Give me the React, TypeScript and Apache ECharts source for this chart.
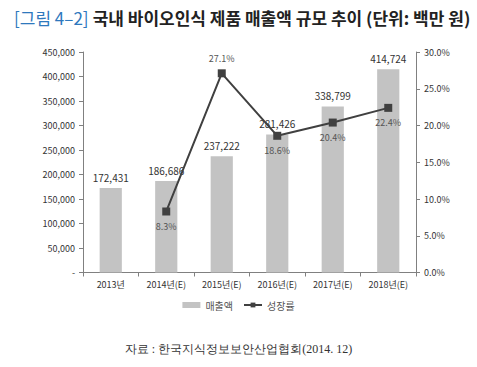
import React, { useEffect, useRef } from "react";
import * as echarts from "echarts";

const categories = ["2013년", "2014년(E)", "2015년(E)", "2016년(E)", "2017년(E)", "2018년(E)"];
const salesValues = [172431, 186686, 237222, 281426, 338799, 414724];
const growthValues: (number | null)[] = [null, 8.3, 27.1, 18.6, 20.4, 22.4];
const growthLabelPos = ["bottom", "bottom", "top", "bottom", "bottom", "bottom"];
const titlePrefix = "[그림 4–2]";
const titleText = "국내 바이오인식 제품 매출액 규모 추이 (단위: 백만 원)";
const sourceText = "자료 : 한국지식정보보안산업협회(2014. 12)";

export default function App() {
  const ref = useRef<HTMLDivElement>(null);
  useEffect(() => {
    if (!ref.current) return;
    document.body.style.margin = "0";
    const chart = echarts.init(ref.current, undefined, { renderer: "svg" });
    const font = "'Noto Sans CJK KR', 'Noto Sans', sans-serif";
    chart.setOption({
      animation: false,
      backgroundColor: "#ffffff",
      textStyle: { fontFamily: font },
      title: {
        left: 9,
        top: 3,
        text: `{a|${titlePrefix}} {b|${titleText}}`,
        textStyle: {
          rich: {
            a: { color: "#2e78bd", fontSize: 17, fontFamily: font, fontWeight: "normal" },
            b: { color: "#222222", fontSize: 17, fontFamily: font, fontWeight: "bold" },
          },
        },
      },
      legend: {
        top: 295,
        left: "center",
        itemWidth: 18,
        itemHeight: 6,
        itemGap: 10,
        textStyle: { fontSize: 10, color: "#555555", fontFamily: font },
        data: [{ name: "매출액", icon: "rect" }, { name: "성장률" }],
      },
      grid: { left: 83, right: 61, top: 52, bottom: 94.5 },
      xAxis: {
        type: "category",
        data: categories,
        axisLine: { lineStyle: { color: "#808080" } },
        axisTick: { show: true, length: 4, lineStyle: { color: "#808080" } },
        axisLabel: { fontSize: 9, color: "#333333", margin: 7 },
      },
      yAxis: [
        {
          type: "value",
          min: 0,
          max: 450000,
          interval: 50000,
          splitLine: { show: false },
          axisLine: { show: true, lineStyle: { color: "#808080" } },
          axisTick: { show: true, length: 4, lineStyle: { color: "#808080" } },
          axisLabel: {
            fontSize: 9,
            color: "#333333",
            margin: 8,
            formatter: (v: number) => (v === 0 ? "-" : v.toLocaleString("en-US")),
          },
        },
        {
          type: "value",
          min: 0,
          max: 30,
          interval: 5,
          position: "right",
          splitLine: { show: false },
          axisLine: { show: true, lineStyle: { color: "#808080" } },
          axisTick: { show: true, length: 4, lineStyle: { color: "#808080" } },
          axisLabel: {
            fontSize: 9,
            color: "#333333",
            margin: 8,
            formatter: (v: number) => v.toFixed(1) + "%",
          },
        },
      ],
      series: [
        {
          name: "매출액",
          type: "bar",
          data: salesValues,
          barWidth: "40%",
          itemStyle: { color: "#c3c3c3" },
          label: {
            show: true,
            position: "top",
            distance: 6,
            fontSize: 10,
            color: "#333333",
            formatter: (p: any) => Number(p.value).toLocaleString("en-US"),
          },
        },
        {
          name: "성장률",
          type: "line",
          yAxisIndex: 1,
          data: growthValues.map((v, i) => ({
            value: v,
            label: { position: growthLabelPos[i] },
          })),
          symbol: "rect",
          symbolSize: 8,
          connectNulls: false,
          lineStyle: { color: "#404040", width: 2 },
          itemStyle: { color: "#404040" },
          label: {
            show: true,
            fontSize: 9,
            color: "#555555",
            distance: 6,
            formatter: (p: any) => Number(p.value).toFixed(1) + "%",
          },
        },
      ],
      graphic: [
        {
          type: "text",
          left: "center",
          top: 343,
          style: {
            text: sourceText,
            fontSize: 12,
            fill: "#333333",
            fontFamily: "'Liberation Serif', 'DejaVu Serif', serif",
          },
        },
      ],
    });
    return () => chart.dispose();
  }, []);
  return <div ref={ref} style={{ width: 477, height: 367 }} />;
}
